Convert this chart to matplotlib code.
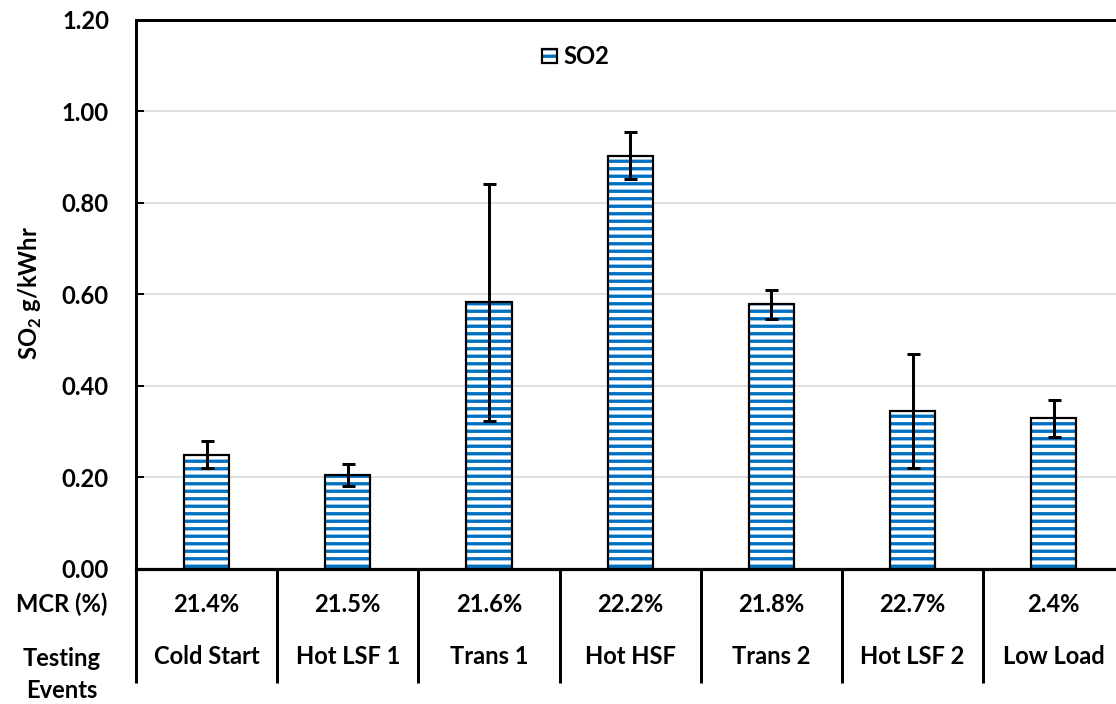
import matplotlib
matplotlib.use("Agg")
import matplotlib.pyplot as plt
import matplotlib.transforms as mtransforms
from matplotlib.legend_handler import HandlerTuple
import numpy as np

# ---- data ----
events = ["Cold Start", "Hot LSF 1", "Trans 1", "Hot HSF", "Trans 2", "Hot LSF 2", "Low Load"]
mcr_labels = ["21.4%", "21.5%", "21.6%", "22.2%", "21.8%", "22.7%", "2.4%"]
so2_mean = [0.25, 0.205, 0.582, 0.903, 0.578, 0.345, 0.329]
so2_err = [0.030, 0.024, 0.259, 0.052, 0.031, 0.125, 0.041]
y_ticks = [0.0, 0.2, 0.4, 0.6, 0.8, 1.0, 1.2]

DPI = 90
W, H = 1116, 704
PT = 72.0 / DPI  # points per pixel

plt.rcParams["font.family"] = ["Lato", "DejaVu Sans"]
plt.rcParams["font.weight"] = "bold"
plt.rcParams["mathtext.fontset"] = "custom"
plt.rcParams["mathtext.rm"] = "Lato:bold"
plt.rcParams["mathtext.bf"] = "Lato:bold"
plt.rcParams["hatch.linewidth"] = 3.3 * PT

fig = plt.figure(figsize=(W / DPI, H / DPI), dpi=DPI)

left_px, top_px, bottom_px = 136, 19.5, 569
cat_px = 141.2
ax = fig.add_axes([left_px / W, (H - bottom_px) / H,
                   7 * cat_px / W, (bottom_px - top_px) / H])

x = np.arange(len(events))
blue = "#0070C0"
bar_w = 0.32

fill_bars = ax.bar(x, so2_mean, bar_w, color="white", edgecolor=blue, hatch="--",
                   linewidth=0, zorder=2)
edge_bars = ax.bar(x, so2_mean, bar_w, fill=False, edgecolor="black",
                   linewidth=2.2 * PT, zorder=3)
ax.errorbar(x, so2_mean, yerr=so2_err, fmt="none", ecolor="black",
            elinewidth=3 * PT, capsize=6.5 * PT, capthick=3 * PT, zorder=4)

ax.set_xlim(-0.5, len(events) - 0.5)
ax.set_ylim(0, 1.2)
ax.set_yticks(y_ticks)
ax.set_yticklabels([f"{v:.2f}" for v in y_ticks])
ax.set_xticks([])
ax.tick_params(axis="y", direction="in", length=8 * PT, width=2 * PT,
               pad=27 * PT, labelsize=19)
ax.yaxis.grid(True, color="#D9D9D9", linewidth=1.6 * PT, zorder=0)
ax.set_axisbelow(True)

for side in ["left", "top"]:
    ax.spines[side].set_linewidth(3 * PT)
ax.spines["bottom"].set_linewidth(3.2 * PT)
ax.spines["right"].set_visible(False)

ax.set_ylabel(r"SO$_2$ g/kWhr", fontsize=19, fontweight="bold")
ax.yaxis.set_label_coords(-(136 - 44) / (7 * cat_px), (569 - 293) / (569 - top_px))

# ---- table beneath the axis ----
ax_h = bottom_px - top_px
trans = mtransforms.blended_transform_factory(ax.transData, ax.transAxes)
div_bottom = -(683 - bottom_px) / ax_h
for k in range(len(events) + 1):
    ax.plot([k - 0.5, k - 0.5], [0, div_bottom], transform=trans, color="black",
            linewidth=3 * PT, clip_on=False, solid_capstyle="butt")

y_mcr = -(604 - bottom_px) / ax_h
y_evt = -(657 - bottom_px) / ax_h
for i in range(len(events)):
    ax.text(i, y_mcr, mcr_labels[i], transform=trans, ha="center", va="center",
            fontsize=19, fontweight="bold")
    ax.text(i, y_evt, events[i], transform=trans, ha="center", va="center",
            fontsize=19, fontweight="bold")

fig.text(107 / W, 1 - 604 / H, "MCR (%)", ha="right", va="center",
         fontsize=19, fontweight="bold")
fig.text(62 / W, 1 - 647 / H, "Testing\nEvents", ha="center", va="top",
         fontsize=19, fontweight="bold", linespacing=1.45, multialignment="center")

leg = ax.legend([(fill_bars, edge_bars)], ["SO2"],
                handler_map={tuple: HandlerTuple(ndivide=1)},
                loc="center", bbox_to_anchor=((576 - left_px) / (7 * cat_px),
                                              (569 - 57) / ax_h),
                frameon=False, fontsize=19,
                handlelength=0.6, handleheight=0.5, handletextpad=0.3)
for t in leg.get_texts():
    t.set_fontweight("bold")

fig.savefig("out.png", dpi=DPI)
